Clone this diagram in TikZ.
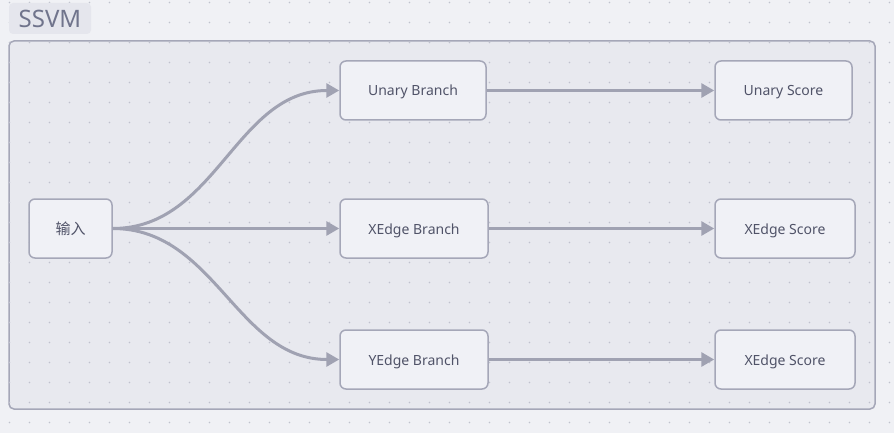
\documentclass[tikz,border=0pt]{standalone}
\usepackage{fontspec}
\setmainfont{Noto Sans}
\newfontfamily\cjkfont{Noto Sans CJK SC}
\usetikzlibrary{arrows.meta}

\definecolor{bgcol}{RGB}{240,241,245}
\definecolor{framefill}{RGB}{232,233,239}
\definecolor{frameline}{RGB}{165,167,184}
\definecolor{boxfill}{RGB}{240,241,246}
\definecolor{boxline}{RGB}{165,167,184}
\definecolor{arrowcol}{RGB}{160,162,178}
\definecolor{txtcol}{RGB}{80,83,104}
\definecolor{titlecol}{RGB}{112,116,140}
\definecolor{titlefill}{RGB}{229,230,237}
\definecolor{dotcol}{RGB}{192,194,206}

\tikzset{
  block/.style={draw=boxline, fill=boxfill, line width=1.5pt, rounded corners=6pt,
    minimum height=59pt, inner sep=0pt, text height=11pt, text depth=0pt,
    text=txtcol, font=\fontsize{14}{16}\selectfont},
  flow/.style={draw=arrowcol, line width=3pt, -{Triangle[length=13pt,width=14pt]}},
}

\begin{document}
\begin{tikzpicture}[x=1pt, y=-1pt]
    % Canvas
    \useasboundingbox[fill=bgcol] (0,0) rectangle (894,433);

    % Group frame
    \node[draw=frameline, fill=framefill, line width=1.5pt, rounded corners=5pt,
      minimum width=866pt, minimum height=368pt, inner sep=0pt] (frame) at (442,225) {};

    % Dot grid
    \foreach \i in {0,...,44} {
        \foreach \j in {0,...,21} {
            \fill[dotcol] (9.5+20*\i, 2.5+20*\j) circle (0.9pt);
        }
    }

    % Group title
    \node[fill=titlefill, rounded corners=4pt, minimum width=82pt, minimum height=31pt,
      inner sep=0pt, text=titlecol, font=\fontsize{24}{26}\selectfont] (title) at (50,18.5) {SSVM};

    % Input
    \node[block, minimum width=83pt, font=\cjkfont\fontsize{15}{17}\selectfont] (in) at (70.5,228.5) {输入};

    % Branches
    \node[block, minimum width=146pt] (ub) at (413,90.5) {Unary Branch};
    \node[block, minimum width=148pt] (xb) at (414,228.5) {XEdge Branch};
    \node[block, minimum width=148pt] (yb) at (414,359.5) {YEdge Branch};

    % Scores
    \node[block, minimum width=137pt] (us) at (783.5,90.5) {Unary Score};
    \node[block, minimum width=140pt] (xs) at (785,228.5) {XEdge Score};
    \node[block, minimum width=140pt] (ys) at (785,359.5) {XEdge Score};

    % Connectors
    \draw[flow] (in.east) to[out=0, in=180] (ub.west);
    \draw[flow] (in.east) -- (xb.west);
    \draw[flow] (in.east) to[out=0, in=180] (yb.west);
    \draw[flow] (ub.east) -- (us.west);
    \draw[flow] (xb.east) -- (xs.west);
    \draw[flow] (yb.east) -- (ys.west);

\end{tikzpicture}
\end{document}
